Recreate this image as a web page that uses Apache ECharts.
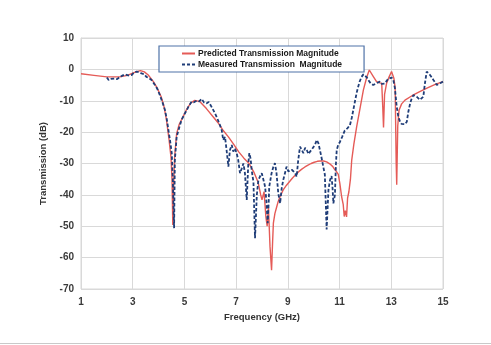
<!DOCTYPE html>
<html>
<head>
<meta charset="utf-8">
<script src="https://cdn.jsdelivr.net/npm/echarts@6/dist/echarts.min.js"></script>
<style>
  html, body { margin: 0; padding: 0; background: #fff; }
  #chart { width: 491px; height: 345px; }
</style>
</head>
<body>
<div id="chart"></div>
<script>
// Frequency axis ticks (GHz) and transmission axis range (dB)
const freqTicks = [1, 3, 5, 7, 9, 11, 13, 15];
const dbRange = [-70, 10];

// Predicted transmission magnitude: [frequency GHz, dB]
const predicted = [
  [1.0,-1.4],[1.5,-1.9],[2.0,-2.4],[2.5,-2.4],[2.8,-1.9],[3.0,-1.2],[3.15,-0.7],[3.3,-0.4],
  [3.45,-0.8],[3.6,-1.8],[3.8,-3.9],[3.95,-6.0],[4.1,-8.7],[4.2,-11.5],[4.3,-15.8],[4.4,-22],
  [4.48,-28],[4.52,-35],[4.55,-49.6],[4.58,-38],[4.62,-28],[4.7,-20.4],[4.8,-17.5],[4.95,-15],
  [5.1,-12.5],[5.25,-10.7],[5.4,-9.9],[5.6,-10.3],[5.85,-12.5],[6.1,-15],[6.3,-17],[6.5,-19.5],
  [6.7,-21.5],[6.9,-23.8],[7.1,-26.3],[7.3,-28.3],[7.5,-30],[7.7,-33],[7.85,-36],[7.95,-40],
  [8.0,-41.6],[8.08,-39],[8.15,-47],[8.2,-50],[8.25,-44],[8.31,-56.5],[8.37,-64],[8.41,-55],
  [8.44,-49],[8.5,-45.9],[8.57,-43.8],[8.63,-42],[8.7,-40.5],[8.76,-39.5],[8.82,-38.4],[8.88,-38.6],
  [8.94,-37.0],[9.0,-37.3],[9.06,-35.8],[9.12,-36.0],[9.18,-34.6],[9.24,-34.9],[9.3,-33.6],
  [9.36,-33.9],[9.42,-32.6],[9.48,-32.9],[9.54,-31.8],[9.6,-32.1],[9.66,-31.1],[9.72,-31.4],
  [9.78,-30.5],[9.84,-30.8],[9.9,-30.0],[9.96,-30.3],[10.02,-29.6],[10.08,-29.9],[10.14,-29.3],
  [10.2,-29.6],[10.26,-29.2],[10.32,-29.5],[10.38,-29.2],[10.44,-29.6],[10.5,-29.5],[10.56,-30.0],
  [10.62,-30.1],[10.68,-30.7],[10.74,-31.0],[10.8,-31.8],[10.88,-32.6],[10.95,-33.5],[11.01,-36.3],
  [11.08,-40.6],[11.14,-43],[11.18,-46.9],[11.22,-45],[11.27,-47],[11.31,-41],[11.36,-39],[11.42,-35],
  [11.47,-28.9],[11.55,-24],[11.66,-18.3],[11.8,-12],[11.92,-6.6],[12.05,-2.5],[12.15,-0.2],
  [12.3,-2.2],[12.43,-3.9],[12.55,-4.3],[12.63,-4.4],[12.67,-12],[12.7,-18.5],[12.74,-8],
  [12.82,-4.4],[12.92,-2.3],[13.01,-0.7],[13.1,-2.8],[13.15,-6],[13.19,-30],[13.21,-36.8],
  [13.25,-18],[13.3,-13],[13.4,-11],[13.53,-9.8],[13.8,-8.4],[14.1,-7.1],[14.4,-5.9],
  [14.7,-4.8],[15.0,-3.9]
];

// Measured transmission magnitude: [frequency GHz, dB]
const measured = [
  [2.0,-2.6],[2.07,-3.4],[2.15,-3.0],[2.22,-3.6],[2.31,-2.9],[2.4,-3.1],[2.5,-2.4],[2.6,-2.0],
  [2.7,-1.6],[2.77,-1.3],[2.86,-2.0],[2.96,-1.8],[3.05,-1.0],[3.15,-0.7],[3.25,-0.9],[3.34,-1.3],
  [3.44,-1.5],[3.53,-2.4],[3.63,-2.8],[3.73,-3.4],[3.8,-4.0],[3.86,-5.0],[3.95,-6.2],[4.05,-8.2],
  [4.15,-10.5],[4.25,-13],[4.32,-16],[4.38,-19.3],[4.45,-23],[4.51,-26.7],[4.55,-35],[4.6,-50.6],
  [4.63,-28.9],[4.7,-21.5],[4.8,-18.5],[4.89,-16.1],[5.0,-14.3],[5.09,-13],[5.18,-11.5],
  [5.28,-10.3],[5.37,-10.5],[5.47,-10.0],[5.57,-10.2],[5.67,-9.4],[5.76,-10.6],[5.86,-10.8],
  [5.94,-10.4],[5.99,-10.8],[6.08,-12.4],[6.18,-14],[6.28,-15.8],[6.37,-17.7],[6.44,-19.3],
  [6.5,-22.5],[6.57,-21.5],[6.63,-25.7],[6.7,-31],[6.76,-25.7],[6.83,-24.1],[6.89,-26.2],
  [6.95,-25.2],[7.02,-26.7],[7.08,-28.9],[7.15,-33.1],[7.22,-31.5],[7.28,-30],[7.34,-33.1],
  [7.41,-41.6],[7.47,-30],[7.51,-26.7],[7.56,-28.5],[7.6,-32],[7.67,-36],[7.73,-53.8],[7.8,-40],
  [7.86,-35.3],[7.93,-34],[7.99,-33.1],[8.05,-35],[8.12,-37.4],[8.17,-42],[8.22,-49],[8.26,-42],
  [8.28,-37.4],[8.33,-35],[8.37,-33.1],[8.44,-31],[8.5,-29.9],[8.56,-33],[8.63,-39.5],[8.7,-42.7],
  [8.76,-38],[8.82,-35.3],[8.89,-33],[8.95,-31],[9.02,-32.5],[9.08,-33.1],[9.15,-32],[9.21,-32.5],
  [9.28,-33],[9.34,-34.2],[9.4,-29],[9.47,-24.6],[9.53,-24.6],[9.6,-26.7],[9.67,-25],[9.73,-25.7],
  [9.8,-27],[9.86,-26.2],[9.93,-25.5],[9.99,-25.7],[10.05,-24],[10.12,-22.5],[10.18,-23.5],
  [10.24,-25.7],[10.3,-28],[10.37,-31],[10.43,-33.5],[10.5,-51],[10.57,-38.4],
  [10.63,-35.3],[10.69,-34],[10.73,-38],[10.76,-42.7],[10.82,-40],[10.86,-30],[10.89,-25.7],
  [10.95,-24],[11.01,-23.2],[11.1,-21.5],[11.2,-19.5],[11.3,-18.8],[11.4,-17.8],[11.47,-15.5],
  [11.53,-13],[11.6,-10],[11.66,-7.5],[11.72,-5.5],[11.78,-3.8],[11.85,-2.4],[11.92,-1.6],
  [11.98,-1.8],[12.05,-2.5],[12.11,-3.4],[12.2,-4.4],[12.3,-5.0],[12.36,-4.5],[12.43,-4.4],
  [12.5,-4.0],[12.56,-3.9],[12.63,-4.6],[12.69,-5],[12.75,-4.5],[12.82,-3.9],[12.88,-3.0],
  [12.95,-2.4],[13.01,-2.6],[13.08,-3.4],[13.14,-6],[13.21,-11.9],[13.27,-15],[13.34,-16.7],
  [13.4,-17.4],[13.47,-17.7],[13.53,-17.5],[13.6,-16.7],[13.66,-13.5],[13.73,-10.8],[13.8,-9.0],
  [13.86,-8.2],[13.92,-8.3],[13.98,-8.7],[14.05,-9.3],[14.11,-9.7],[14.17,-9.5],[14.24,-8.7],
  [14.3,-4.5],[14.37,-0.7],[14.43,-0.9],[14.5,-1.8],[14.56,-2.5],[14.63,-3.4],[14.7,-4.2],
  [14.76,-5],[14.83,-4.7],[14.89,-4.4],[14.95,-4.1],[15.0,-3.9]
];

const seriesNames = ['Predicted Transmission Magnitude', 'Measured Transmission  Magnitude'];

const chart = echarts.init(document.getElementById('chart'), null, { renderer: 'canvas' });
const fontFamily = '"Liberation Sans", Arial, sans-serif';
const gridColor = '#d9d9d9';
const redColor = '#e55b57';
const blueColor = '#1f3d78';

chart.setOption({
  animation: false,
  backgroundColor: '#ffffff',
  textStyle: { fontFamily: fontFamily },
  grid: { left: 81, right: 48, top: 38, bottom: 56, containLabel: false,
          show: true, borderColor: gridColor, borderWidth: 1 },
  legend: {
    left: 159, top: 46,
    orient: 'vertical',
    padding: [3, 22, 3, 23],
    itemGap: 2,
    itemWidth: 13, itemHeight: 2,
    borderColor: '#4f73a8', borderWidth: 1.2, backgroundColor: '#ffffff',
    textStyle: { fontSize: 8.5, fontWeight: 'bold', color: '#1a1a1a', fontFamily: fontFamily, padding: [0, 0, 0, -2] },
    data: [
      { name: seriesNames[0], icon: 'rect', itemStyle: { color: redColor } },
      { name: seriesNames[1], icon: 'path://M0,0h3v2h-3z M5,0h3v2h-3z M10,0h3v2h-3z', itemStyle: { color: blueColor } }
    ]
  },
  xAxis: {
    type: 'value',
    min: freqTicks[0], max: freqTicks[freqTicks.length - 1], interval: 2,
    name: 'Frequency (GHz)', nameLocation: 'middle', nameGap: 17,
    nameTextStyle: { fontSize: 9.5, fontWeight: 'bold', color: '#333' },
    axisLine: { lineStyle: { color: gridColor } },
    axisTick: { show: false },
    axisLabel: { fontSize: 10, fontWeight: 'bold', color: '#3a3a3a', margin: 8 },
    splitLine: { show: true, lineStyle: { color: gridColor, width: 1 } }
  },
  yAxis: {
    type: 'value',
    min: dbRange[0], max: dbRange[1], interval: 10,
    name: 'Transmission (dB)', nameLocation: 'middle', nameGap: 30,
    nameTextStyle: { fontSize: 9.5, fontWeight: 'bold', color: '#333' },
    axisLine: { show: true, lineStyle: { color: gridColor } },
    axisTick: { show: false },
    axisLabel: { fontSize: 10, fontWeight: 'bold', color: '#3a3a3a', margin: 7 },
    splitLine: { show: true, lineStyle: { color: gridColor, width: 1 } }
  },
  series: [
    {
      name: seriesNames[0], type: 'line', data: predicted,
      showSymbol: false, symbol: 'none', z: 2,
      lineStyle: { color: redColor, width: 1.4 },
      itemStyle: { color: redColor }
    },
    {
      name: seriesNames[1], type: 'line', data: measured,
      showSymbol: false, symbol: 'none', z: 3,
      lineStyle: { color: blueColor, width: 1.8, type: [3.5, 2] },
      itemStyle: { color: blueColor }
    }
  ],
  graphic: [
    { type: 'line', shape: { x1: 0, y1: 343.5, x2: 491, y2: 343.5 },
      style: { stroke: '#c9c9c9', lineWidth: 1 } }
  ]
});
</script>
</body>
</html>
